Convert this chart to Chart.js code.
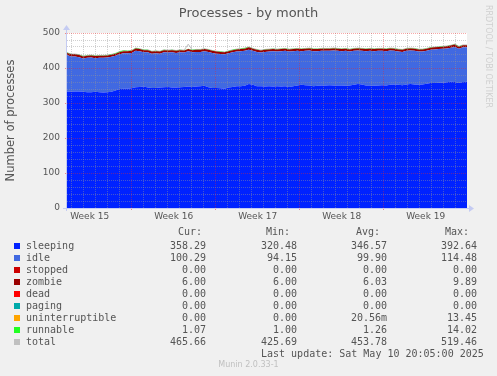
<!DOCTYPE html>
<html>
<head>
<meta charset="utf-8">
<script src="https://cdn.jsdelivr.net/npm/chart.js@4/dist/chart.umd.min.js"></script>
<style>
html,body{margin:0;padding:0;background:#f0f0f0;}
#wrap{position:relative;width:497px;height:376px;overflow:hidden;background:#f0f0f0;}
#c{position:absolute;left:0;top:0;}
.t{position:absolute;font-family:"DejaVu Sans Mono",monospace;font-size:10px;line-height:12px;color:#555;white-space:pre;}
.sw{position:absolute;width:6px;height:6px;}
#rrd{position:absolute;left:484px;top:5px;writing-mode:vertical-rl;font-family:"DejaVu Sans",sans-serif;font-size:8px;line-height:9px;color:#d0d0d0;white-space:pre;}
#munin{position:absolute;left:0;width:497px;top:360px;text-align:center;font-family:"DejaVu Sans",sans-serif;font-size:8px;line-height:10px;color:#c0c0c0;}
</style>
</head>
<body>
<div id="wrap">
<canvas id="c" width="497" height="376"></canvas>
<div id="legend"></div>
<div id="rrd">RRDTOOL / TOBI OETIKER</div>
<div id="munin">Munin 2.0.33-1</div>
</div>
<script>
// ---- data ----
const windowDays = 33.333;          // width of the month window, in days
const firstMidnight = 0.39;         // first midnight after window start (days)
const weekLabels = ['Week 15','Week 16','Week 17','Week 18','Week 19'];
const weekStartDays = [-1.61, 5.39, 12.39, 19.39, 26.39];
const yMajorTicks = [0, 100, 200, 300, 400, 500];

const sleeping = [
 333,332,333,333,332,331,331,332,331,330,
 331,332,336,340,341,341,342,345,346,347,
 344,343,343,344,345,346,344,344,345,346,
 347,346,347,348,349,345,343,343,342,341,
 344,346,348,348,349,354,352,348,348,347,
 348,347,348,347,348,346,348,350,352,351,
 350,348,349,350,350,351,350,350,350,349,
 350,352,354,353,350,350,349,350,351,350,
 352,353,352,351,353,354,353,352,353,355,
 357,357,358,358,359,361,360,357,360,361];
const idle = [
 104,101,100,98,95,98,99,96,98,99,
 99,100,99,99,101,101,101,104,102,98,
 101,98,99,97,100,98,101,99,100,98,
 101,99,99,98,99,101,100,98,98,98,
 98,99,99,100,100,98,97,98,96,99,
 99,101,99,101,101,101,100,99,96,98,
 100,100,99,99,99,98,100,99,98,100,
 97,97,96,96,98,99,99,99,98,98,
 98,96,95,95,96,96,96,95,94,94,
 95,96,96,97,97,97,100,98,99,98];
const zombie = [
 6,6,6,6,6,6,6,6,6,6,
 6,6,6,6,6,6,6,7,6,6,
 6,6,6,6,6,6,6,6,6,6,
 6,6,6,6,6,6,6,6,6,6,
 6,6,6,6,6,7,6,6,6,6,
 6,6,6,6,6,6,6,6,6,6,
 6,6,6,6,6,6,6,6,6,6,
 6,6,6,6,6,6,6,6,6,6,
 6,6,6,6,6,6,6,6,6,6,
 6,6,6,6,6,6,7,6,6,6];
const runnable = [
 1,1,1,1,1,1,1,1,1,1,
 1,1,1,2,2,1,1,1,1,1,
 1,1,1,1,1,1,1,1,1,1,
 1,1,1,1,1,1,1,1,1,1,
 1,1,1,1,2,1,1,1,1,1,
 1,1,1,1,1,1,1,1,1,1,
 1,1,1,1,1,1,1,1,1,1,
 1,1,1,1,1,1,1,1,1,1,
 1,1,1,1,1,1,1,1,1,1,
 1,1,1,1,1,1,1,1,1,1];
const total = [
 444,440,440,438,434,436,437,435,436,436,
 437,439,442,447,450,449,450,457,455,452,
 452,448,449,448,452,451,452,450,452,451,
 468,452,453,453,455,453,450,448,447,446,
 449,452,454,455,457,460,456,453,451,453,
 454,455,454,455,456,454,455,456,455,456,
 457,455,455,456,456,456,457,456,455,456,
 454,456,457,456,455,456,455,456,456,455,
 457,456,454,453,456,457,456,454,454,456,
 459,460,461,462,463,465,468,462,466,466];

const seriesNames  = ['sleeping','idle','stopped','zombie','dead','paging','uninterruptible','runnable','total'];
const seriesColors = ['#0022ff','#4169e1','#cc0000','#990000','#ff0000','#00aaaa','#ffa500','#22ff22','#c0c0c0'];
const curValues = ['358.29','100.29','0.00','6.00','0.00','0.00','0.00','1.07','465.66'];
const minValues = ['320.48','94.15','0.00','6.00','0.00','0.00','0.00','1.00','425.69'];
const avgValues = ['346.57','99.90','0.00','6.03','0.00','0.00','20.56m','1.26','453.78'];
const maxValues = ['392.64','114.48','0.00','9.89','0.00','0.00','13.45','14.02','519.46'];
const lastUpdate = 'Last update: Sat May 10 20:05:00 2025';

// ---- derived axis helpers ----
const sampleDays = sleeping.map((_, i) => i * windowDays / (sleeping.length - 1));
const dayLines = [];
for (let d = firstMidnight; d <= windowDays; d += 1) dayLines.push(+d.toFixed(3));
const mondayLines = weekStartDays.filter(d => d > 0);
const weekCenters = weekStartDays.map(d => +(d + 3.5).toFixed(3));
const near = (a, b) => Math.abs(a - b) < 0.01;
const isMonday = v => mondayLines.some(m => near(m, v));
const weekIndex = v => weekCenters.findIndex(c => near(c, v));

const GRID_MINOR = 'rgba(150,150,150,0.45)';
const GRID_MAJOR = 'rgba(235,40,40,0.40)';
const AXIS = '#c4cbf2';

const bgPlugin = {
  id: 'bg',
  beforeDraw(chart) {
    const {ctx, chartArea: a} = chart;
    ctx.save();
    ctx.fillStyle = '#f0f0f0';
    ctx.fillRect(0, 0, chart.width, chart.height);
    ctx.fillStyle = '#ffffff';
    ctx.fillRect(a.left, a.top, a.right - a.left, a.bottom - a.top);
    ctx.restore();
  }
};
const axisPlugin = {
  id: 'axes',
  afterDraw(chart) {
    const {ctx, chartArea: a} = chart;
    ctx.save();
    ctx.strokeStyle = AXIS; ctx.fillStyle = AXIS; ctx.lineWidth = 1;
    ctx.beginPath();
    ctx.moveTo(a.left - 4, a.bottom + 0.5); ctx.lineTo(a.right + 3, a.bottom + 0.5);
    ctx.moveTo(a.left - 0.5, a.bottom + 3); ctx.lineTo(a.left - 0.5, a.top - 3);
    ctx.stroke();
    ctx.beginPath();
    ctx.moveTo(a.right + 7, a.bottom + 0.5); ctx.lineTo(a.right + 2, a.bottom - 3); ctx.lineTo(a.right + 2, a.bottom + 4); ctx.closePath();
    ctx.fill();
    ctx.beginPath();
    ctx.moveTo(a.left - 0.5, a.top - 8); ctx.lineTo(a.left - 4, a.top - 3); ctx.lineTo(a.left + 3, a.top - 3); ctx.closePath();
    ctx.fill();
    ctx.restore();
  }
};

const area = (label, data, color, fill) => ({
  label, data, fill, backgroundColor: color, borderColor: 'rgba(0,0,0,0)', borderWidth: 1,
  pointRadius: 0, tension: 0, yAxisID: 'y'
});

new Chart(document.getElementById('c'), {
  type: 'line',
  data: {
    labels: sampleDays,
    datasets: [
      area('sleeping', sleeping, seriesColors[0], 'origin'),
      area('idle', idle, seriesColors[1], '-1'),
      area('zombie', zombie, seriesColors[3], '-1'),
      area('runnable', runnable, seriesColors[7], '-1'),
      {label: 'total', data: total, fill: false, borderColor: seriesColors[8], borderWidth: 1,
       pointRadius: 0, tension: 0, yAxisID: 'y2'}
    ]
  },
  options: {
    responsive: false, animation: false, devicePixelRatio: 1,
    layout: {padding: 0},
    plugins: {
      legend: {display: false}, tooltip: {enabled: false},
      title: {display: true, text: 'Processes - by month', color: '#555',
        font: {family: 'DejaVu Sans', size: 13, weight: 'normal', lineHeight: 1.2},
        padding: {top: 5.5, bottom: 11.9}}
    },
    scales: {
      x: {
        type: 'linear', min: 0, max: windowDays,
        afterBuildTicks: s => { s.ticks = [...dayLines, ...weekCenters].sort((a, b) => a - b).map(v => ({value: v})); },
        afterFit: s => { s.height = 168; },
        ticks: {autoSkip: false, maxRotation: 0, minRotation: 0, padding: 1, color: '#555',
          font: {family: 'DejaVu Sans', size: 9},
          callback: v => { const i = weekIndex(v); return i >= 0 ? weekLabels[i] : ''; }},
        grid: {z: 1, lineWidth: 1, tickLength: 2,
          color: c => weekIndex(c.tick.value) >= 0 ? 'rgba(0,0,0,0)' : (isMonday(c.tick.value) ? GRID_MAJOR : GRID_MINOR),
          tickColor: c => isMonday(c.tick.value) ? '#e88' : 'rgba(0,0,0,0)'},
        border: {display: false, dash: [1, 1]}
      },
      y: {
        stacked: true, min: 0, max: 500,
        afterFit: s => { s.width = 67; },
        ticks: {stepSize: 20, autoSkip: false, padding: 5, color: '#555', font: {family: 'DejaVu Sans', size: 9},
          callback: v => yMajorTicks.includes(v) ? String(v) : ''},
        grid: {z: 1, lineWidth: 1, tickLength: 2,
          color: c => c.tick.value === 0 ? 'rgba(0,0,0,0)' : (yMajorTicks.includes(c.tick.value) ? GRID_MAJOR : GRID_MINOR),
          tickColor: c => yMajorTicks.includes(c.tick.value) ? '#e88' : 'rgba(0,0,0,0)'},
        border: {display: false, dash: [1, 1]},
        title: {display: true, text: 'Number of processes', color: '#555',
          font: {family: 'DejaVu Sans', size: 11.5}, padding: {top: 4, bottom: 0}}
      },
      y2: {
        position: 'right', min: 0, max: 500, stacked: false,
        afterFit: s => { s.width = 30; },
        ticks: {display: false}, grid: {display: false}, border: {display: false}
      }
    }
  },
  plugins: [bgPlugin, axisPlugin]
});

// ---- legend table (real text) ----
const legend = document.getElementById('legend');
function put(text, css) {
  const el = document.createElement('div');
  el.className = 't';
  el.textContent = text;
  Object.assign(el.style, css);
  legend.appendChild(el);
  return el;
}
put('Cur:', {right: '295px', top: '226px'});
put('Min:', {right: '207px', top: '226px'});
put('Avg:', {right: '117px', top: '226px'});
put('Max:', {right: '28px', top: '226px'});
seriesNames.forEach((name, i) => {
  const top = 240 + 12 * i;
  const sw = document.createElement('div');
  sw.className = 'sw';
  Object.assign(sw.style, {left: '14px', top: (top + 3) + 'px', background: seriesColors[i]});
  legend.appendChild(sw);
  put(name, {left: '26px', top: top + 'px'});
  put(curValues[i], {right: '291px', top: top + 'px'});
  put(minValues[i], {right: '200px', top: top + 'px'});
  put(avgValues[i], {right: '110px', top: top + 'px'});
  put(maxValues[i], {right: '20px', top: top + 'px'});
});
put(lastUpdate, {left: '261px', top: '348px'});
</script>
</body>
</html>
